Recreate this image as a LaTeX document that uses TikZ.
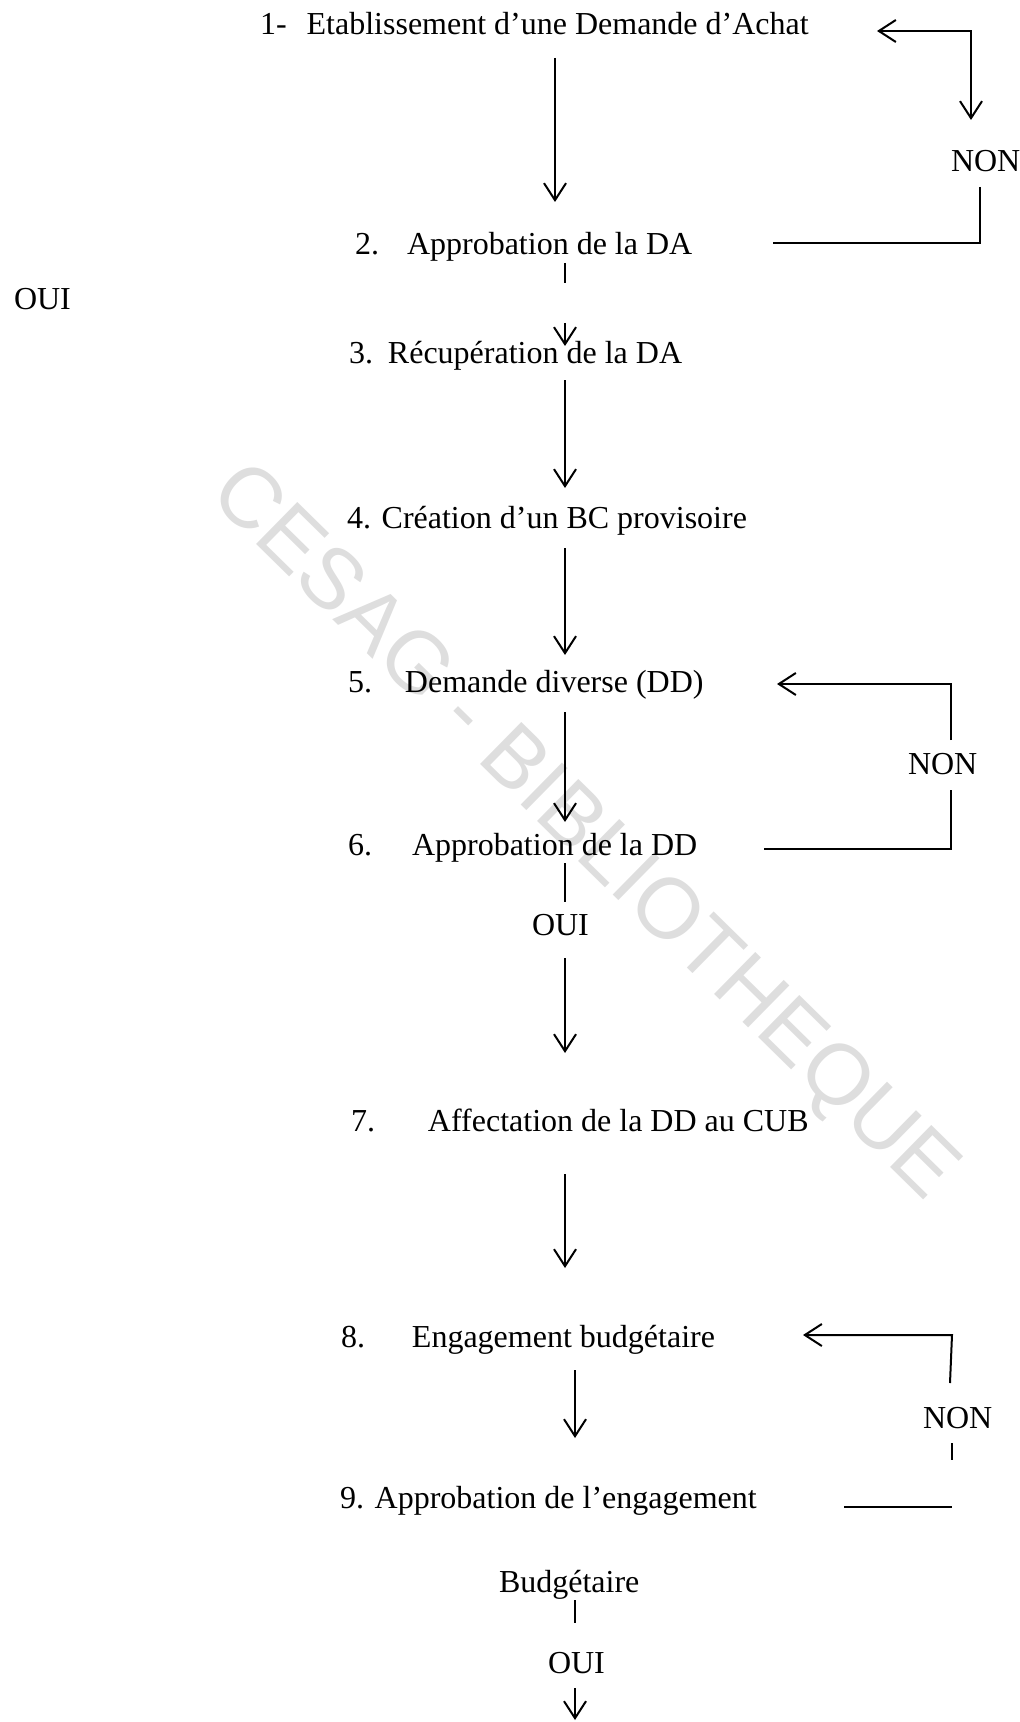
\documentclass[tikz,border=0pt]{standalone}
\usepackage{fontspec}
\setmainfont{Liberation Serif}
\newfontfamily\wmfont{Liberation Sans}
\usetikzlibrary{arrows.meta}
\tikzset{
  lbl/.style={anchor=base west, inner sep=0pt, outer sep=0pt, font=\fontsize{16pt}{19pt}\selectfont},
  wm/.style={inner sep=0pt, text=black!13, font=\wmfont\fontsize{42.8pt}{48pt}\selectfont},
  flow/.style={line width=1pt, -{Straight Barb[length=8.5pt,width=11pt,line width=1pt]}},
  both/.style={line width=1pt, {Straight Barb[length=8.5pt,width=11pt,line width=1pt]}-{Straight Barb[length=8.5pt,width=11pt,line width=1pt]}},
  plainline/.style={line width=1pt},
  tick/.style={line width=0.8pt}
}
\begin{document}
\begin{tikzpicture}[x=0.5pt,y=-0.5pt]
\useasboundingbox (0,0) rectangle (1020,1722);
% watermark
\node[wm, rotate=-44.5] (wm) at (582,834) {CESAG - BIBLIOTHEQUE};

% texts
\node[lbl] (t1) at (260,35) {1-\hspace*{10pt}Etablissement d’une Demande d’Achat};
\node[lbl] (t2) at (355,255) {2.\hspace*{14pt}Approbation de la DA};
\node[lbl] (oui1) at (14,310) {OUI};
\node[lbl] (t3) at (349,364) {3.\hspace*{7.5pt}Récupération de la DA};
\node[lbl] (t4) at (347,528) {4. Création d’un BC provisoire};
\node[lbl] (t5) at (348,692) {5.\hspace*{16.5pt}Demande diverse (DD)};
\node[lbl] (t6) at (348,855) {6.\hspace*{20pt}Approbation de la DD};
\node[lbl] (oui2) at (532,935) {OUI};
\node[lbl] (t7) at (351,1131) {7.\hspace*{26.5pt}Affectation de la DD au CUB};
\node[lbl] (t8) at (341,1347) {8.\hspace*{23.5pt}Engagement budgétaire};
\node[lbl] (t9) at (340,1508) {9. Approbation de l’engagement};
\node[lbl] (t9b) at (499,1592) {Budgétaire};
\node[lbl] (oui3) at (548,1673) {OUI};
\node[lbl] (non1) at (951,172) {NON};
\node[lbl] (non2) at (908,774) {NON};
\node[lbl] (non3) at (923,1428) {NON};

% connector end points
\coordinate (a1s) at (555,58);   \coordinate (a1e) at (555,202);
\coordinate (l1a) at (877,31);   \coordinate (l1b) at (971,31);  \coordinate (l1c) at (971,120);
\coordinate (l1d) at (980,187);  \coordinate (l1e) at (980,243); \coordinate (l1f) at (773,243);
\coordinate (k2s) at (565,263);  \coordinate (k2e) at (565,283);
\coordinate (a2s) at (565,323);  \coordinate (a2e) at (565,346);
\coordinate (a3s) at (565,380);  \coordinate (a3e) at (565,488);
\coordinate (a4s) at (565,548);  \coordinate (a4e) at (565,655);
\coordinate (l2a) at (951,740);  \coordinate (l2b) at (951,684); \coordinate (l2c) at (777,684);
\coordinate (l2d) at (951,790);  \coordinate (l2e) at (951,849); \coordinate (l2f) at (764,849);
\coordinate (a5s) at (565,712);  \coordinate (a5e) at (565,822);
\coordinate (k6s) at (565,863);  \coordinate (k6e) at (565,902);
\coordinate (a6s) at (565,958);  \coordinate (a6e) at (565,1053);
\coordinate (a7s) at (565,1174); \coordinate (a7e) at (565,1268);
\coordinate (l3a) at (950,1383); \coordinate (l3b) at (952,1335); \coordinate (l3c) at (803,1335);
\coordinate (k3s) at (952,1443); \coordinate (k3e) at (952,1460);
\coordinate (l3d) at (844,1507); \coordinate (l3e) at (952,1507);
\coordinate (a8s) at (575,1370); \coordinate (a8e) at (575,1438);
\coordinate (k9s) at (575,1600); \coordinate (k9e) at (575,1623);
\coordinate (a9s) at (575,1688); \coordinate (a9e) at (575,1720);

% connectors
\draw[flow] (a1s) -- (a1e);
\draw[both] (l1a) -- (l1b) -- (l1c);
\draw[plainline] (l1d) -- (l1e) -- (l1f);
\draw[tick] (k2s) -- (k2e);
\draw[flow] (a2s) -- (a2e);
\draw[flow] (a3s) -- (a3e);
\draw[flow] (a4s) -- (a4e);
\draw[flow] (l2a) -- (l2b) -- (l2c);
\draw[plainline] (l2d) -- (l2e) -- (l2f);
\draw[flow] (a5s) -- (a5e);
\draw[tick] (k6s) -- (k6e);
\draw[flow] (a6s) -- (a6e);
\draw[flow] (a7s) -- (a7e);
\draw[flow] (l3a) -- (l3b) -- (l3c);
\draw[tick] (k3s) -- (k3e);
\draw[plainline] (l3d) -- (l3e);
\draw[flow] (a8s) -- (a8e);
\draw[tick] (k9s) -- (k9e);
\draw[flow] (a9s) -- (a9e);
\end{tikzpicture}
\end{document}
